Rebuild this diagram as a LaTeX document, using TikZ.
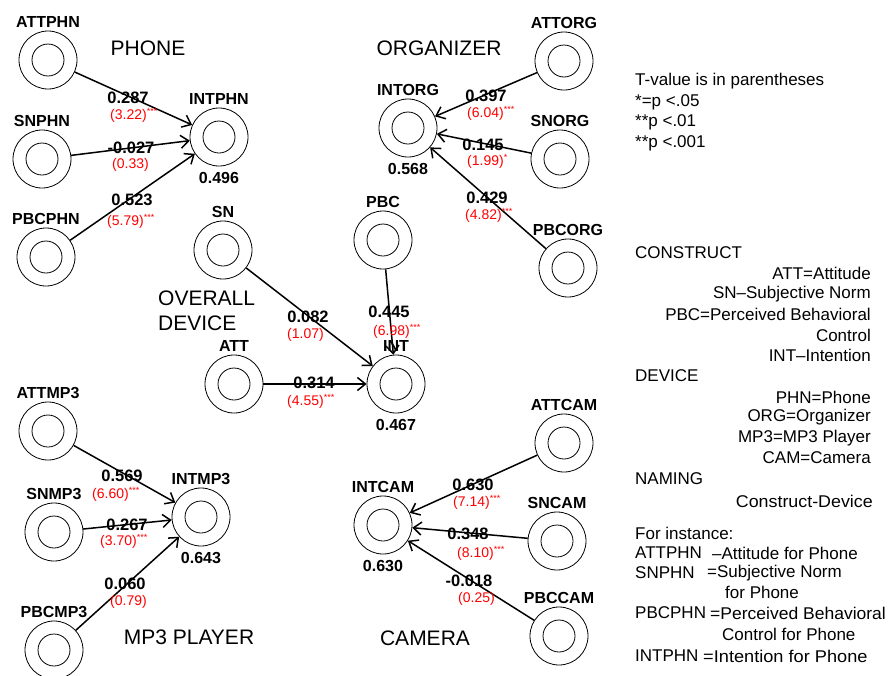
\documentclass[tikz,border=0pt]{standalone}
\usepackage{fontspec}
\usepackage{graphicx}
\setmainfont{Liberation Sans}
\usetikzlibrary{arrows.meta}
\newcommand{\mystars}[1]{\raisebox{5pt}{\fontsize{9}{9}\selectfont #1}}
\newcommand{\widen}[2]{\scalebox{#1}[1]{#2}}
\begin{document}
\begin{tikzpicture}[x=1pt,y=-1pt,
  cnode/.style={circle,draw,line width=0.8pt,minimum size=58pt,inner sep=0pt,
    path picture={\draw[line width=0.8pt] (path picture bounding box.center) circle (16pt);}},
  nlbl/.style={font=\fontsize{16}{17}\selectfont\bfseries,inner sep=0pt},
  top/.style={label={[nlbl,label distance=3pt]above:#1}},
  rsq/.style={label={[nlbl,label distance=6pt]below:#1}},
  edge/.style={line width=1.5pt,-{Straight Barb[length=8pt,width=13pt]}},
  val/.style={font=\fontsize{16.5}{17}\selectfont\bfseries,inner sep=0pt},
  tv/.style={text=red,font=\fontsize{14}{15}\selectfont,inner sep=0pt,anchor=west},
  ttl/.style={font=\fontsize{21}{22}\selectfont,inner sep=0pt},
  leg/.style={font=\fontsize{17}{18}\selectfont,inner sep=0pt}
]
\useasboundingbox (0,0) rectangle (889,675);

% ---------- PHONE ----------
\node[ttl] (tphone) at (148,48) {PHONE};
\node[cnode,top=ATTPHN] (attphn) at (48,60) {};
\node[cnode,top=SNPHN] (snphn) at (42,159) {};
\node[cnode,top=PBCPHN] (pbcphn) at (46,257) {};
\node[cnode,top=INTPHN,rsq=0.496] (intphn) at (219,137) {};
\draw[edge] (attphn) -- (intphn);
\draw[edge] (snphn) -- (intphn);
\draw[edge] (pbcphn) -- (intphn);
\node[val] (v1) at (128,98) {0.287};
\node[tv] (t1) at (110,115) {(3.22)\mystars{***}};
\node[val] (v2) at (131,148) {-0.027};
\node[tv] (t2) at (112,165) {(0.33)};
\node[val] (v3) at (132,200) {0.523};
\node[tv] (t3) at (107,221) {(5.79)\mystars{***}};

% ---------- ORGANIZER ----------
\node[ttl] (torg) at (439,48) {ORGANIZER};
\node[cnode,top=ATTORG] (attorg) at (564,61) {};
\node[cnode,top=SNORG] (snorg) at (560,159) {};
\node[cnode,top=PBCORG] (pbcorg) at (568,268) {};
\node[cnode,top=INTORG,rsq=0.568] (intorg) at (408,128) {};
\draw[edge] (attorg) -- (intorg);
\draw[edge] (snorg) -- (intorg);
\draw[edge] (pbcorg) -- (intorg);
\node[val] (v4) at (486,96) {0.397};
\node[tv] (t4) at (467,113) {(6.04)\mystars{***}};
\node[val] (v5) at (483,145) {0.145};
\node[tv] (t5) at (467,161) {(1.99)\mystars{*}};
\node[val] (v6) at (487,198) {0.429};
\node[tv] (t6) at (465,215) {(4.82)\mystars{***}};

% ---------- OVERALL DEVICE ----------
\node[ttl,anchor=west] (tov1) at (158,298) {OVERALL};
\node[ttl,anchor=west] (tov2) at (158,323) {DEVICE};
\node[cnode,top=SN] (sn) at (223,250) {};
\node[cnode,top=PBC] (pbc) at (383,240) {};
\node[cnode,top=ATT] (att) at (234,384) {};
\node[cnode,top=INT,rsq=0.467] (int) at (396,384) {};
\draw[edge] (sn) -- (int);
\draw[edge] (pbc) -- (int);
\draw[edge] (att) -- (int);
\node[val] (v7) at (308,317) {0.082};
\node[tv] (t7) at (287,335) {(1.07)};
\node[val] (v8) at (389,312) {0.445};
\node[tv] (t8) at (373,331) {(6.98)\mystars{***}};
\node[val] (v9) at (314,383) {0.314};
\node[tv] (t9) at (287,401) {(4.55)\mystars{***}};

% ---------- MP3 PLAYER ----------
\node[ttl] (tmp3) at (189,637) {MP3 PLAYER};
\node[cnode,top=ATTMP3] (attmp3) at (48,431) {};
\node[cnode,top=SNMP3] (snmp3) at (54,532) {};
\node[cnode,top=PBCMP3] (pbcmp3) at (54,650) {};
\node[cnode,top=INTMP3,rsq=0.643] (intmp3) at (201,517) {};
\draw[edge] (attmp3) -- (intmp3);
\draw[edge] (snmp3) -- (intmp3);
\draw[edge] (pbcmp3) -- (intmp3);
\node[val] (v10) at (122,476) {0.569};
\node[tv] (t10) at (92,494) {(6.60)\mystars{***}};
\node[val] (v11) at (127,525) {0.267};
\node[tv] (t11) at (100,541) {(3.70)\mystars{***}};
\node[val] (v12) at (125,584) {0.060};
\node[tv] (t12) at (110,602) {(0.79)};

% ---------- CAMERA ----------
\node[ttl] (tcam) at (425,638) {CAMERA};
\node[cnode,top=ATTCAM] (attcam) at (564,443) {};
\node[cnode,top=SNCAM] (sncam) at (557,541) {};
\node[cnode,top=PBCCAM] (pbccam) at (559,636) {};
\node[cnode,top=INTCAM,rsq=0.630] (intcam) at (383,525) {};
\draw[edge] (attcam) -- (intcam);
\draw[edge] (sncam) -- (intcam);
\draw[edge] (pbccam) -- (intcam);
\node[val] (v13) at (473,485) {0.630};
\node[tv] (t13) at (453,502) {(7.14)\mystars{***}};
\node[val] (v14) at (468,534) {0.348};
\node[tv] (t14) at (457,553) {(8.10)\mystars{***}};
\node[val] (v15) at (469,581) {-0.018};
\node[tv] (t15) at (458,599) {(0.25)};

% ---------- LEGEND ----------
\node[leg,anchor=west] (l1) at (635,81) {T-value is in parentheses};
\node[leg,anchor=west] (l2) at (635,102) {*=p <.05};
\node[leg,anchor=west] (l3) at (635,122) {**p <.01};
\node[leg,anchor=west] (l4) at (635,143) {**p <.001};

\node[leg,anchor=west] (l5) at (635,253) {CONSTRUCT};
\node[leg,anchor=east] (l6) at (871,273) {ATT=Attitude};
\node[leg,anchor=east] (l7) at (871,294) {SN–Subjective Norm};
\node[leg,anchor=east] (l8) at (871,314) {PBC=Perceived Behavioral};
\node[leg,anchor=east] (l9) at (871,335) {Control};
\node[leg,anchor=east] (l10) at (871,355) {INT–Intention};

\node[leg,anchor=west] (l11) at (635,376) {DEVICE};
\node[leg,anchor=east] (l12) at (871,397) {PHN=Phone};
\node[leg,anchor=east] (l13) at (871,417) {ORG=Organizer};
\node[leg,anchor=east] (l14) at (871,438) {MP3=MP3 Player};
\node[leg,anchor=east] (l15) at (871,458) {CAM=Camera};

\node[leg,anchor=west] (l16) at (635,479) {NAMING};
\node[leg,anchor=east] (l17) at (873,501) {\widen{1.05}{Construct-Device}};

\node[leg,anchor=west] (l18) at (635,533) {For instance:};
\node[leg,anchor=west] (l19) at (635,553) {ATTPHN};
\node[leg,anchor=west] (l20) at (712,553) {–Attitude for Phone};
\node[leg,anchor=west] (l21) at (635,573) {SNPHN};
\node[leg,anchor=west] (l22) at (707,573) {=Subjective Norm};
\node[leg,anchor=west] (l23) at (725,592) {for Phone};
\node[leg,anchor=west] (l24) at (635,613) {PBCPHN};
\node[leg,anchor=west] (l25) at (710,613) {\widen{1.03}{=Perceived Behavioral}};
\node[leg,anchor=west] (l26) at (722,634) {Control for Phone};
\node[leg,anchor=west] (l27) at (635,656) {INTPHN};
\node[leg,anchor=west] (l28) at (703,656) {\widen{1.07}{=Intention for Phone}};
\end{tikzpicture}
\end{document}
